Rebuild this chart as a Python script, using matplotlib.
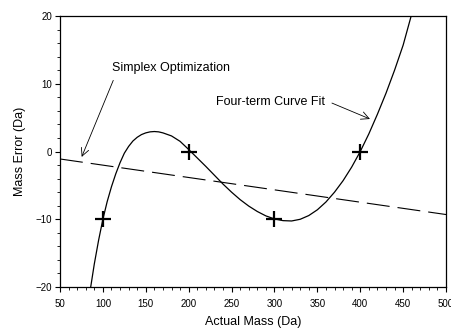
import matplotlib.pyplot as plt
from matplotlib.ticker import MultipleLocator

plt.rcParams['font.family'] = ['Liberation Sans', 'DejaVu Sans']

# calibration points (+ markers)
mass_pts = [100, 200, 300, 400]
err_pts = [-10, 0, -10, 0]

# four-term curve fit
fit_mass = [85.8, 90, 95, 100, 105, 110, 115, 120, 125, 130, 135, 140, 145, 150, 155,
            160, 165, 170, 180, 190, 200, 210, 220, 230, 240, 250, 260, 270, 280, 290,
            300, 310, 320, 330, 340, 350, 360, 370, 380, 390, 400, 410, 420, 430, 440,
            450, 460]
fit_err = [-20, -16.6, -13.1, -10.0, -7.4, -5.2, -3.3, -1.65, -0.25, 0.75, 1.55, 2.1, 2.5, 2.75, 2.9,
           2.95, 2.9, 2.75, 2.3, 1.5, 0.3, -0.95, -2.2, -3.5, -4.8, -6.0, -7.1, -8.05, -8.85, -9.5,
           -9.95, -10.2, -10.25, -10.0, -9.45, -8.6, -7.45, -6.0, -4.3, -2.3, 0.0, 2.6, 5.5, 8.6, 12.0,
           15.7, 20.3]

# simplex optimization line
simplex_mass = [50, 500]
simplex_err = [-1.1, -9.3]

fig = plt.figure(figsize=(4.51, 3.33), dpi=100)
ax = fig.add_axes([0.133, 0.138, 0.856, 0.814])

ax.plot(fit_mass, fit_err, color='black', lw=0.9)
line, = ax.plot(simplex_mass, simplex_err, color='black', lw=0.8)
line.set_dashes((20.7, 7.2))
ax.plot(mass_pts, err_pts, linestyle='none', marker='+', color='black',
        markersize=11, markeredgewidth=1.6)

ax.set_xlim(50, 500)
ax.set_ylim(-20, 20)
ax.xaxis.set_major_locator(MultipleLocator(50))
ax.xaxis.set_minor_locator(MultipleLocator(10))
ax.yaxis.set_major_locator(MultipleLocator(10))
ax.yaxis.set_minor_locator(MultipleLocator(2))
ax.tick_params(which='major', direction='out', length=3.5, width=0.8, labelsize=7)
ax.tick_params(axis='x', which='major', pad=5)
ax.tick_params(axis='y', which='major', pad=2)
ax.tick_params(which='minor', direction='out', length=2, width=0.6)
for s in ax.spines.values():
    s.set_linewidth(0.9)

ax.set_xlabel('Actual Mass (Da)', fontsize=9, labelpad=5)
ax.set_ylabel('Mass Error (Da)', fontsize=9, labelpad=7)

arrow = dict(arrowstyle='->', color='black', lw=0.6, mutation_scale=14, shrinkA=0, shrinkB=0)
ax.annotate('', xy=(75.3, -0.8), xytext=(112.1, 10.5), arrowprops=arrow)
ax.text(111, 12.3, 'Simplex Optimization', fontsize=9, va='center', ha='left')
ax.annotate('', xy=(411.3, 4.8), xytext=(367, 7.15), arrowprops=arrow)
ax.text(232.4, 7.35, 'Four-term Curve Fit', fontsize=9, va='center', ha='left')

fig.savefig('out.png', dpi=100)
